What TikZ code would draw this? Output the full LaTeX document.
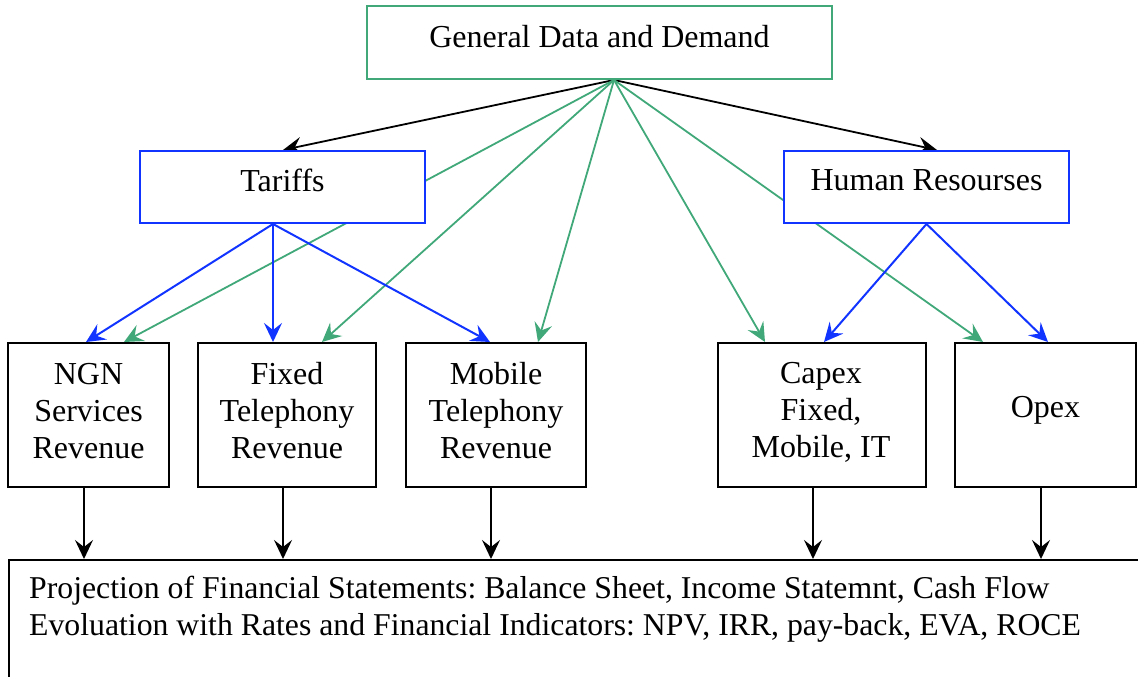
\documentclass[tikz,border=0pt]{standalone}
\usepackage{fontspec}
\setmainfont{Liberation Serif}
\usetikzlibrary{arrows.meta,backgrounds}
\definecolor{grn}{RGB}{64,168,121}
\definecolor{blu}{RGB}{18,52,255}
\frenchspacing
\begin{document}
\begin{tikzpicture}[x=1pt,y=-1pt,
  font=\fontsize{32}{37}\selectfont,
  box/.style={draw, line width=2pt, fill=white, inner sep=0pt, minimum height=144pt},
  topbox/.style={draw=blu, line width=2pt, fill=white, inner sep=0pt, minimum height=72pt, minimum width=285pt},
  txt/.style={inner sep=0pt, align=center},
  tip/.style={-{Stealth[length=19pt,width=18pt,inset=7pt]}},
  gline/.style={tip, draw=grn, line width=1.8pt},
  bline/.style={tip, draw=blu, line width=2pt},
  kline/.style={tip, draw=black, line width=1.8pt}]
\useasboundingbox (0,0) rectangle (1138,677);
\clip (0,0) rectangle (1138,677);
% boxes
\node[draw=grn, line width=2pt, fill=white, inner sep=0pt, minimum width=465pt, minimum height=73pt] (gd) at (599.5,42.5) {};
\node[topbox] (tar) at (282.5,187) {};
\node[topbox] (hr) at (926.5,187) {};
\node[box, minimum width=161pt] (ngn) at (88.5,415) {};
\node[box, minimum width=178pt] (fix) at (287,415) {};
\node[box, minimum width=180pt] (mob) at (496,415) {};
\node[box, minimum width=208pt] (cap) at (822,415) {};
\node[box, minimum width=181pt] (opx) at (1045.5,415) {};
\node[draw, line width=2pt, inner sep=0pt, minimum width=1200pt, minimum height=200pt, anchor=north west] (fin) at (8,559) {};
% texts
\node[txt] (gdt) at (599.5,37) {General Data and Demand};
\node[txt] (tart) at (282.5,180) {Tariffs};
\node[txt] (hrt) at (926.5,180) {Human Resourses};
\node[txt] (ngnt) at (88.5,411) {NGN\\Services\\Revenue};
\node[txt] (fixt) at (287,411) {Fixed\\Telephony\\Revenue};
\node[txt] (mobt) at (496,411) {Mobile\\Telephony\\Revenue};
\node[txt] (capt) at (821,412) {Capex\\Fixed,\\Mobile, IT};
\node[txt] (opxt) at (1045.5,410) {Opex};
\node[inner sep=0pt, align=left, anchor=west, font=\fontsize{31.75}{37}\selectfont] (fint) at (29,609) {Projection of Financial Statements: Balance Sheet, Income Statemnt, Cash Flow\\Evoluation with Rates and Financial Indicators: NPV, IRR, pay-back, EVA, ROCE};
% origins
\coordinate (gdo) at ([xshift=14.5pt]gd.south);
\coordinate (taro) at ([xshift=-9.5pt]tar.south);
\coordinate (hro) at (hr.south);
\begin{scope}[on background layer]
\draw[kline] (gdo) -- ([xshift=0.5pt]tar.north);
\draw[kline] (gdo) -- ([xshift=10.5pt]hr.north);
\draw[gline] (gdo) -- ([xshift=35.5pt]ngn.north);
\draw[gline] (gdo) -- ([xshift=35pt]fix.north);
\draw[gline] (gdo) -- ([xshift=42pt]mob.north);
\draw[gline] (gdo) -- ([xshift=-57pt]cap.north);
\draw[gline] (gdo) -- ([xshift=-62.5pt]opx.north);
\draw[bline] (taro) -- ([xshift=-2.5pt]ngn.north);
\draw[bline] (taro) -- ([xshift=-14pt]fix.north);
\draw[bline] (taro) -- ([xshift=-6pt]mob.north);
\draw[bline] (hro) -- ([xshift=2pt]cap.north);
\draw[bline] (hro) -- ([xshift=2.5pt]opx.north);
\end{scope}
\foreach \n/\s in {ngn/-4.5, fix/-4, mob/-5, cap/-9, opx/-4.5}
  \draw[kline, line width=1.5pt] ([xshift=\s pt]\n.south) -- ([xshift=\s pt]\n.south |- fin.north);
\end{tikzpicture}
\end{document}
